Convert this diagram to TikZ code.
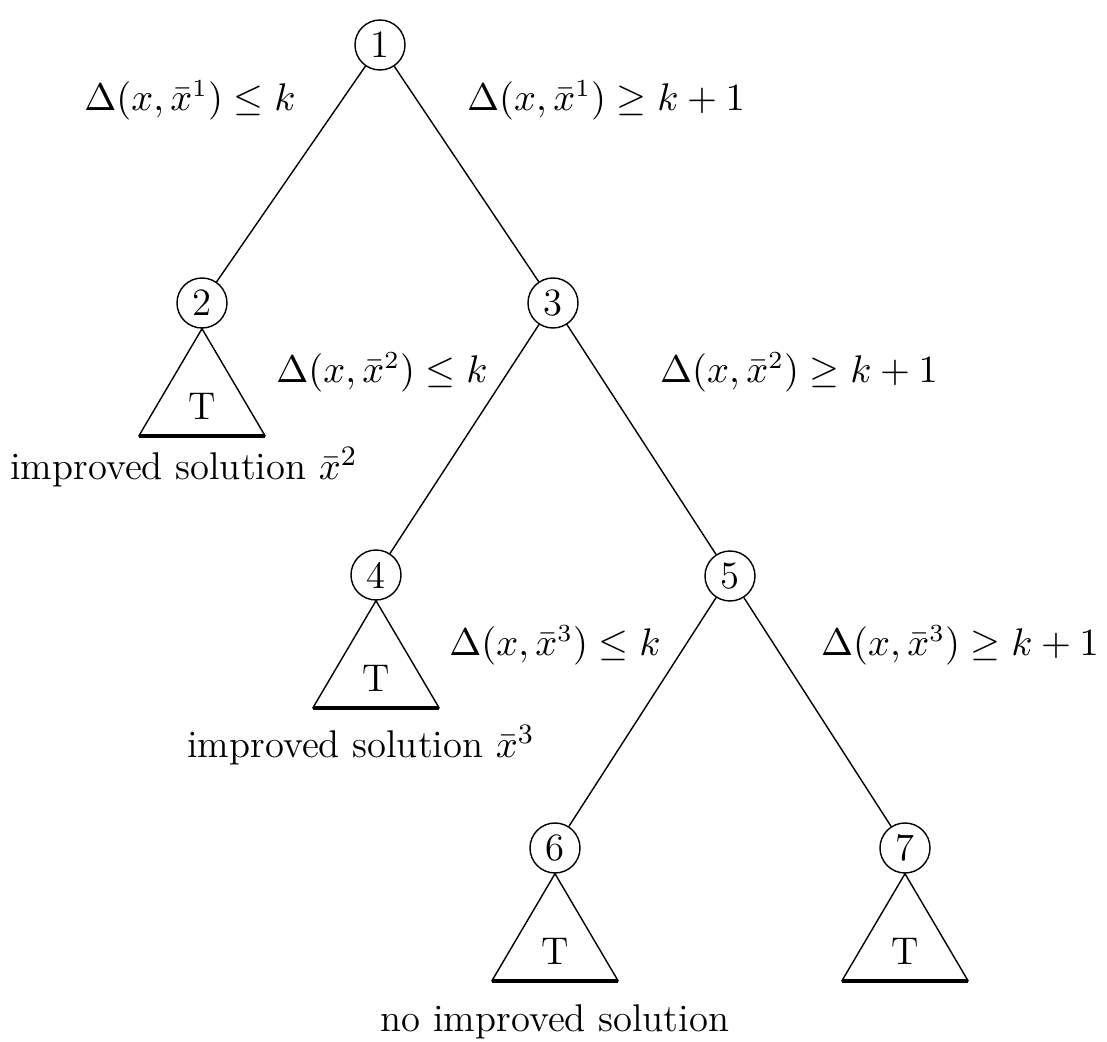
\documentclass[tikz,border=0pt]{standalone}
\usepackage{amsmath}
\usepackage{amssymb}
\usepackage{tikz}
\usetikzlibrary{positioning, calc}

\tikzset{
  vert/.style={circle, draw, thin, minimum size=0.5cm, inner sep=0pt, font=\fontsize{11}{13}\selectfont},
  cond/.style={font=\fontsize{10.5}{13}\selectfont},
  note/.style={font=\fontsize{11}{13}\selectfont},
}

% subtree triangle below a node
\newcommand{\subtree}[1]{%
  \draw[thin] (#1.south) -- ++(-0.63,-1.07) coordinate (#1l) -- ++(1.26,0) coordinate (#1r) -- cycle;
  \draw[very thick] (#1l) -- (#1r);
  \node[note] at ($(#1.south)+(0,-0.78)$) {T};
}

\begin{document}
\begin{tikzpicture}
  \useasboundingbox (0,0) rectangle (11.07,-10.42);

  % Tree nodes
  \node[vert] (n1) at (3.80,-0.45) {1};
  \node[vert] (n2) at (2.02,-3.03) {2};
  \node[vert] (n3) at (5.53,-3.03) {3};
  \node[vert] (n4) at (3.76,-5.75) {4};
  \node[vert] (n5) at (7.30,-5.76) {5};
  \node[vert] (n6) at (5.55,-8.48) {6};
  \node[vert] (n7) at (9.05,-8.48) {7};

  % Branches
  \draw[thin] (n1) -- (n2);
  \draw[thin] (n1) -- (n3);
  \draw[thin] (n3) -- (n4);
  \draw[thin] (n3) -- (n5);
  \draw[thin] (n5) -- (n6);
  \draw[thin] (n5) -- (n7);

  % Subtrees
  \subtree{n2}
  \subtree{n4}
  \subtree{n6}
  \subtree{n7}

  % Branching constraints
  \node[cond] (c1l) at (1.90,-1.00) {$\Delta(x,\bar{x}^1) \le k$};
  \node[cond] (c1r) at (6.06,-1.00) {$\Delta(x,\bar{x}^1) \ge k+1$};
  \node[cond] (c2l) at (3.82,-3.72) {$\Delta(x,\bar{x}^2) \le k$};
  \node[cond] (c2r) at (7.99,-3.72) {$\Delta(x,\bar{x}^2) \ge k+1$};
  \node[cond] (c3l) at (5.55,-6.45) {$\Delta(x,\bar{x}^3) \le k$};
  \node[cond] (c3r) at (9.60,-6.45) {$\Delta(x,\bar{x}^3) \ge k+1$};

  % Outcomes
  \node[note] (o2) at (1.84,-4.67) {improved solution $\bar{x}^2$};
  \node[note] (o4) at (3.61,-7.45) {improved solution $\bar{x}^3$};
  \node[note] (o6) at (5.55,-10.22) {no improved solution};
\end{tikzpicture}
\end{document}
